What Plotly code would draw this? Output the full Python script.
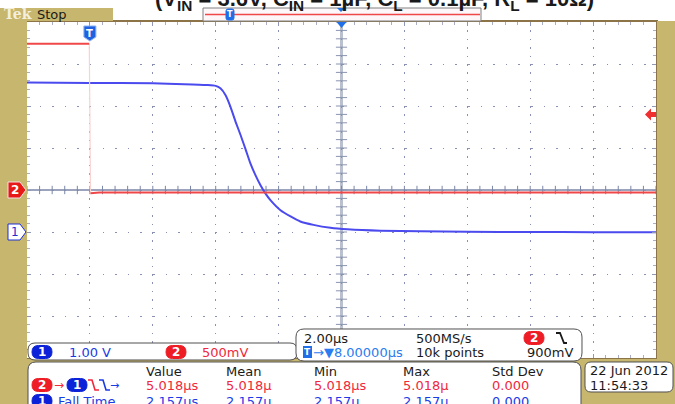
import plotly.graph_objects as go

# ---------------- data ----------------
# time relative to trigger, microseconds
ch1_t = [-2.0, 0.0, 2.0, 3.0, 3.7, 4.0, 4.15, 4.31, 4.47, 4.63, 4.79, 4.94, 5.10, 5.26,
         5.42, 5.58, 5.74, 6.06, 6.38, 6.69, 7.11, 7.65, 8.19, 9.24, 10.5, 12.0, 14.0, 16.0, 18.0]
ch1_v = [3.56, 3.55, 3.54, 3.52, 3.50, 3.48, 3.42, 3.26, 2.98, 2.63, 2.31, 1.99, 1.64, 1.36,
         1.12, 0.92, 0.76, 0.52, 0.37, 0.25, 0.17, 0.10, 0.064, 0.03, 0.015, 0.005, 0.0, -0.005, -0.005]
ch2_hi_t = [-2.0, -0.02]
ch2_hi_v = [1.74, 1.74]
ch2_lo_t = [0.02, 0.3, 18.0]
ch2_lo_v = [-0.04, -0.03, -0.03]
trig_level = 0.9          # V, ch2
ch1_scale = 1.0           # V/div
ch2_scale = 0.5           # V/div
time_div = 2.0            # us/div
delay = 8.0               # us

hdr_labels = ["Value", "Mean", "Min", "Max", "Std Dev"]
delay_row = ["5.018µs", "5.018µ", "5.018µs", "5.018µ", "0.000"]
fall_row = ["2.157µs", "2.157µ", "2.157µ", "2.157µ", "0.000"]

# ---------------- geometry ----------------
W, H = 675, 404
L, R, T, B = 27, 656, 22, 358
xmin, xmax = delay - 5 * time_div, delay + 5 * time_div
y1min, y1max = -3 * ch1_scale, 5 * ch1_scale
y2min, y2max = -4 * ch2_scale, 4 * ch2_scale

def px(x):
    return (x - L) / (R - L)

def py(y):
    return (B - y) / (B - T)

def xp(t):
    return L + (t - xmin) / (xmax - xmin) * (R - L)

def y1p(v):
    return B - (v - y1min) / (y1max - y1min) * (B - T)

def y2p(v):
    return B - (v - y2min) / (y2max - y2min) * (B - T)

TAN = "#C7B66E"
RED = "#F0283C"
BLUE = "#1A3CE6"
LBLUE = "#2A7DF0"
DARK = "#1A1A1A"
PBLUE = "#0B22D8"
PRED = "#EE1C24"
FONT = "DejaVu Sans"

shapes = []
annotations = []

def poly(pts, fill, line="rgba(0,0,0,0)", lw=1):
    d = "M " + " L ".join(f"{px(x):.5f},{py(y):.5f}" for x, y in pts) + " Z"
    shapes.append(dict(type="path", xref="paper", yref="paper", path=d,
                       fillcolor=fill, line=dict(color=line, width=lw), layer="above"))

def polyline(pts, color, lw=1.5):
    d = "M " + " L ".join(f"{px(x):.5f},{py(y):.5f}" for x, y in pts)
    shapes.append(dict(type="path", xref="paper", yref="paper", path=d,
                       line=dict(color=color, width=lw), layer="above"))

def rrect(x0, y0, x1, y1, r, fill, line="#505050", lw=1):
    P = lambda x, y: f"{px(x):.5f},{py(y):.5f}"
    d = (f"M {P(x0+r,y0)} L {P(x1-r,y0)} Q {P(x1,y0)} {P(x1,y0+r)} L {P(x1,y1-r)} "
         f"Q {P(x1,y1)} {P(x1-r,y1)} L {P(x0+r,y1)} Q {P(x0,y1)} {P(x0,y1-r)} "
         f"L {P(x0,y0+r)} Q {P(x0,y0)} {P(x0+r,y0)} Z")
    shapes.append(dict(type="path", xref="paper", yref="paper", path=d,
                       fillcolor=fill, line=dict(color=line, width=lw), layer="above"))

def text(x, y, s, color=DARK, size=13, anchor="left", bold=False, family=FONT):
    annotations.append(dict(xref="paper", yref="paper", x=px(x), y=py(y), text=s,
                            showarrow=False, xanchor=anchor, yanchor="middle",
                            font=dict(family=family, size=size, color=color),
                            borderpad=0))

def pill(cx, cy, label, color, w=20, h=13):
    rrect(cx - w/2, cy - h/2, cx + w/2, cy + h/2, h/2, color, line=color)
    text(cx, cy, f"<b>{label}</b>", "white", 12, "center")

def rect(x0, y0, x1, y1, fill, line="rgba(0,0,0,0)", lw=1):
    shapes.append(dict(type="rect", xref="paper", yref="paper", x0=px(x0), x1=px(x1),
                       y0=py(y1), y1=py(y0), fillcolor=fill, line=dict(color=line, width=lw),
                       layer="above"))

# ---------------- traces ----------------
fig = go.Figure()
# centre crosshair
xc = (xmin + xmax) / 2
fig.add_shape(type="line", xref="x", yref="paper", x0=xc, x1=xc, y0=0, y1=1,
              line=dict(color="#BAC0CE", width=3), layer="below")
fig.add_shape(type="line", xref="paper", yref="y2", x0=0, x1=1, y0=0, y1=0,
              line=dict(color="#7A86A6", width=1.5), layer="below")

n_minor_x = int(round((xmax - xmin) / (time_div / 5)))
tick_x = [xmin + i * time_div / 5 for i in range(n_minor_x + 1)]
fig.add_trace(go.Scatter(x=tick_x, y=[0] * len(tick_x), yaxis="y2", mode="markers",
                         marker=dict(symbol="line-ns", size=6, line=dict(color="#7A86A6", width=1)),
                         hoverinfo="skip"))
n_minor_y = int(round((y1max - y1min) / (ch1_scale / 5)))
tick_y = [y1min + i * ch1_scale / 5 for i in range(n_minor_y + 1)]
fig.add_trace(go.Scatter(x=[xc] * len(tick_y), y=tick_y, mode="markers",
                         marker=dict(symbol="line-ew", size=8, line=dict(color="#8A94B0", width=1)),
                         hoverinfo="skip"))

# ch2 (red) edge connector (faint), then levels
fig.add_trace(go.Scatter(x=[ch2_hi_t[-1], ch2_lo_t[0]], y=[ch2_hi_v[-1], ch2_lo_v[0]], yaxis="y2",
                         mode="lines", line=dict(color="#F9D2D2", width=1.2), hoverinfo="skip"))
fig.add_trace(go.Scatter(x=ch2_hi_t, y=ch2_hi_v, yaxis="y2", mode="lines",
                         line=dict(color="#F04848", width=2), hoverinfo="skip"))
fig.add_trace(go.Scatter(x=ch2_lo_t, y=ch2_lo_v, yaxis="y2", mode="lines",
                         line=dict(color="#F04848", width=2), hoverinfo="skip"))
# ch1 (blue)
fig.add_trace(go.Scatter(x=ch1_t, y=ch1_v, mode="lines", line=dict(color="#4A4AEE", width=2, shape="spline", smoothing=0.6),
                         hoverinfo="skip"))

# ---------------- decorations ----------------
# top record-view bar
rect(113, 8, 572, 21, "#FDF7FA")
rect(572, 8, 675, 21, TAN)
rect(0, 8, 113, 21, TAN)
rect(0, 21, L, H, TAN)
rect(R + 1, 21, W, H, TAN)
rect(203, 8, 481, 21, "#FDF7FA", line="#808080", lw=1)
polyline([(205, 14.5), (480, 14.5)], "#F04848", 1.5)
# mini trigger and centre markers in record bar
rrect(226, 9, 234, 20, 2, "#1E6FE8", line="#1E6FE8")
text(230, 14.5, "<b>T</b>", "white", 8, "center")
poly([(337, 8), (345, 8), (341, 12)], "#1E6FE8")
text(3, 14.5, "<b>Tek</b>", "#F4EEDC", 14, "left", family="DejaVu Serif")
text(36, 14.5, "Stop", DARK, 13, "left")

# title (cut off at top)
text(375, 0.5, "<b>(V<sub>IN</sub> = 3.6V, C<sub>IN</sub> = 1µF, C<sub>L</sub> = 0.1µF, R<sub>L</sub> = 10Ω)</b>",
     DARK, 22, "center", family="Liberation Sans")

# trigger "T" marker on graticule
tx = xp(0.0)
poly([(tx - 6, 26), (tx + 6, 26), (tx + 6, 37), (tx, 41), (tx - 6, 37)], "#1E62E0", line="#8FB4F4")
text(tx, 33, "<b>T</b>", "white", 10, "center")
# delay marker at centre top
cx = xp(xc)
poly([(cx - 5, 22), (cx + 5, 22), (cx, 28)], "#1E6FE8")

# channel ground tags (left)
g2 = y2p(0.0)
poly([(8, g2 - 8), (20, g2 - 8), (26, g2), (20, g2 + 8), (8, g2 + 8)], "#E81818", line="#F4E0E0")
text(15, g2, "<b>2</b>", "white", 12, "center")
g1 = y1p(0.0)
poly([(8, g1 - 8), (20, g1 - 8), (26, g1), (20, g1 + 8), (8, g1 + 8)], "white", line="#2030D0")
text(15, g1, "1", "#2030D0", 12, "center")

# trigger level arrow (right)
tl = y2p(trig_level)
poly([(645, tl), (651, tl - 6), (651, tl - 2.5), (656, tl - 2.5), (656, tl + 2.5), (651, tl + 2.5), (651, tl + 6)],
     "#F03030")

# bottom tan strip
rect(0, B + 1, W, H, TAN)

# box 1: channel scales
rrect(28, 343, 297, 360, 7, "white", line="#505050")
pill(42, 352, "1", PBLUE)
text(68, 352, "1.00 V", BLUE)
pill(176, 352, "2", PRED)
text(201, 352, "500mV", RED)

# box 2: timebase / trigger
rrect(296, 329, 582, 361, 8, "white", line="#505050")
text(303, 338, f"{time_div:.2f}µs", DARK)
text(415, 338, "500MS/s", DARK)
pill(534, 338, "2", PRED)
polyline([(556, 333), (560, 333), (564, 343), (567, 343)], DARK, 1.8)
rect(303, 346, 312, 358, "#1E6FE8")
text(307.5, 352, "<b>T</b>", "white", 9, "center")
text(312, 352, f"→▼{delay:.5f}µs", LBLUE)
text(415, 352, "10k points", DARK)
text(574, 352, f"{trig_level*1000:.0f}mV", DARK, anchor="right")

# measurement box
rrect(28, 362, 581, 430, 8, "white", line="#505050")
col_x = [145, 225, 313, 402, 491]
for xv, lab in zip(col_x, hdr_labels):
    text(xv, 371, lab, DARK)
pill(42, 385, "2", PRED)
text(53, 385, "→", RED, 12)
pill(77, 385, "1", PBLUE)
polyline([(88, 380), (92, 380), (95, 390), (99, 390)], RED, 1.6)
polyline([(99, 380), (103, 380), (106, 390), (110, 390)], BLUE, 1.6)
text(109, 385, "→", BLUE, 11)
for xv, val in zip(col_x, delay_row):
    text(xv, 385, val, RED)
pill(42, 401, "1", PBLUE)
text(57, 401, "Fall Time", BLUE)
for xv, val in zip(col_x, fall_row):
    text(xv, 401, val, BLUE)

# date box
rrect(585, 362, 673, 392, 6, "white", line="#505050")
text(589, 370, "22 Jun 2012", DARK)
text(589, 385, "11:54:33", DARK)

fig.update_layout(
    width=W, height=H,
    margin=dict(l=L, r=W - R, t=T, b=H - B, pad=0),
    paper_bgcolor="white", plot_bgcolor="white",
    showlegend=False, hovermode=False,
    shapes=shapes, annotations=annotations,
    xaxis=dict(range=[xmin, xmax], dtick=time_div, tick0=xmin, showticklabels=False,
               showgrid=True, gridcolor="#8A90B4", gridwidth=1, griddash="1.5px,6.9px",
               zeroline=False, showline=True, linecolor="#8C7448", linewidth=1.5, mirror="ticks",
               ticks="inside", ticklen=4, tickcolor="#9098B8",
               minor=dict(dtick=time_div / 5, tick0=xmin, ticks="inside", ticklen=3, tickcolor="#A8AEC8", showgrid=False)),
    yaxis=dict(range=[y1min, y1max], dtick=ch1_scale, tick0=y1min, showticklabels=False,
               showgrid=True, gridcolor="#8A90B4", gridwidth=1, griddash="1.5px,11.1px",
               zeroline=False, showline=True, linecolor="#8C7448", linewidth=1.5, mirror="ticks",
               ticks="inside", ticklen=4, tickcolor="#9098B8",
               minor=dict(dtick=ch1_scale / 5, tick0=y1min, ticks="inside", ticklen=3, tickcolor="#A8AEC8", showgrid=False)),
    yaxis2=dict(range=[y2min, y2max], overlaying="y", showticklabels=False, showgrid=False,
                zeroline=False, showline=False, ticks=""),
)

fig.write_html("out.html", config={"displayModeBar": False},
               post_script="document.body.style.margin='0';document.body.style.overflow='hidden';")
